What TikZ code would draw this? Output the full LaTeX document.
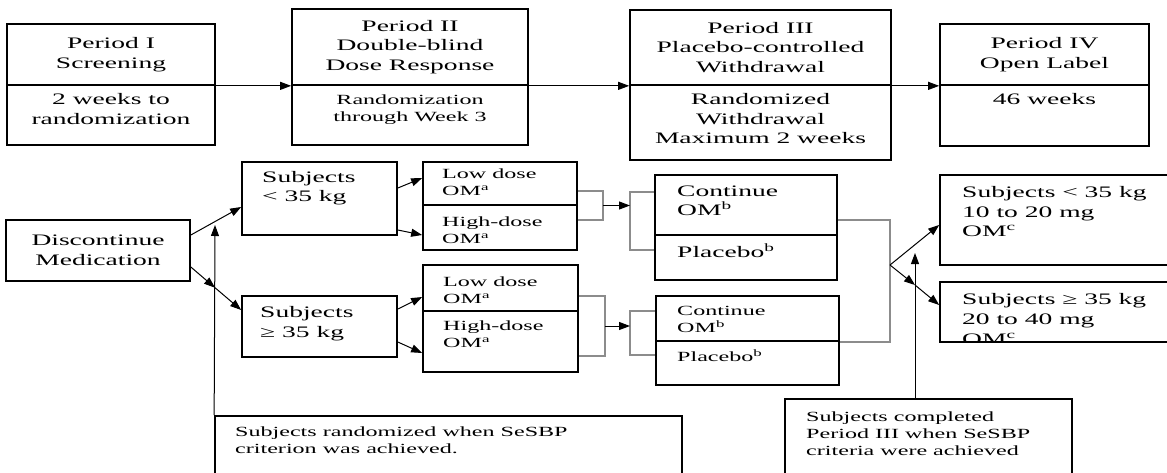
\documentclass[tikz,border=0pt]{standalone}
\usepackage{fontspec}
\setmainfont{Liberation Serif}[FakeStretch=1.72]
\usetikzlibrary{arrows.meta}

\tikzset{
  box/.style={draw, line width=1.7pt, inner sep=0pt},
  big/.style={font=\fontsize{16}{19.5}\selectfont},
  small/.style={font=\fontsize{14}{17}\selectfont},
  txt/.style={inner sep=0pt, align=left, anchor=north west},
  ctxt/.style={inner sep=0pt, align=center, anchor=north},
  arr/.style={-{Triangle[length=11pt,width=8pt]}, line width=1pt},
  merge/.style={draw=black!45, line width=1.6pt},
}

\begin{document}
\begin{tikzpicture}[x=1pt, y=-1pt]
    \useasboundingbox (0,0) rectangle (1167,472);
    % study periods
    \node (p1a) at (111,54.5) [box, big, align=center, minimum width=208, minimum height=61] {Period I\\Screening};
    \node (p1b) at (111,115) [box, minimum width=208, minimum height=60] {};
    \node (p2a) at (410,47) [box, big, align=center, minimum width=236, minimum height=76] {Period II\\Double-blind\\Dose Response};
    \node (p2b) at (410,115) [box, minimum width=236, minimum height=60] {};
    \node (p3a) at (760.5,47.5) [box, big, align=center, minimum width=261, minimum height=75] {Period III\\Placebo-controlled\\Withdrawal};
    \node (p3b) at (760.5,122.5) [box, minimum width=261, minimum height=75] {};
    \node (p4a) at (1044.5,54.5) [box, big, align=center, minimum width=209, minimum height=61] {Period IV\\Open Label};
    \node (p4b) at (1044.5,115.5) [box, minimum width=209, minimum height=61] {};
    \node (p1t) at (111,93.5) [ctxt, big] {2 weeks to\\randomization};
    \node (p2t) at (410,94.5) [ctxt, small] {Randomization\\through Week 3};
    \node (p3t) at (760.5,93.5) [ctxt, big] {Randomized\\Withdrawal\\Maximum 2 weeks};
    \node (p4t) at (1044.5,93.5) [ctxt, big] {46 weeks};
    \draw[arr] (p1a.south east) -- (p2a.south west);
    \draw[arr] (p2a.south east) -- (p3a.south west);
    \draw[arr] (p3a.south east) -- (p4a.south west);

    % discontinue and weight groups
    \node (disc) at (98,250.5) [box, big, align=center, minimum width=184, minimum height=61] {Discontinue\\Medication};
    \node (s1) at (319.5,198.5) [box, minimum width=155, minimum height=73] {};
    \node (s2) at (319.5,326.5) [box, minimum width=155, minimum height=61] {};
    \node (s1t) at (262,171) [txt, big] {Subjects\\< 35 kg};
    \node (s2t) at (260,306.5) [txt, big] {Subjects\\≥ 35 kg};
    \coordinate (x1) at (215,287.7);
    \coordinate (v1) at (215,225);
    \draw[arr] ([yshift=15.5]disc.east) -- ([yshift=-8.5]s1.west);
    \draw[arr] ([yshift=-16.5]disc.east) -- (x1);
    \draw[arr] (x1) -- ([yshift=16.5]s2.west);

    % dose boxes
    \node (d1a) at (500,183.5) [box, minimum width=154, minimum height=43] {};
    \node (d1b) at (500,227.5) [box, minimum width=154, minimum height=45] {};
    \node (d2a) at (500.5,288) [box, minimum width=155, minimum height=46] {};
    \node (d2b) at (500.5,341.5) [box, minimum width=155, minimum height=61] {};
    \node (d1at) at (442,169) [txt, small] {Low dose\\OM\textsuperscript{a}};
    \node (d1bt) at (442,216.5) [txt, small] {High-dose\\OM\textsuperscript{a}};
    \node (d2at) at (443,276.5) [txt, small] {Low dose\\OM\textsuperscript{a}};
    \node (d2bt) at (443,320.5) [txt, small] {High-dose\\OM\textsuperscript{a}};
    \draw[arr] ([yshift=10.5]s1.east) -- ([yshift=5.5]d1a.west);
    \draw[arr] ([yshift=-31.5]s1.east) -- ([yshift=-7.5]d1b.west);
    \draw[arr] ([yshift=17.5]s2.east) -- ([yshift=-9]d2a.west);
    \draw[arr] ([yshift=-15.5]s2.east) -- ([yshift=-11.5]d2b.west);

    % randomized withdrawal
    \node (c1a) at (746,205) [box, minimum width=182, minimum height=60] {};
    \node (c1b) at (746,257.5) [box, minimum width=182, minimum height=45] {};
    \node (c2a) at (747.5,318.5) [box, minimum width=183, minimum height=45] {};
    \node (c2b) at (747.5,363) [box, minimum width=183, minimum height=44] {};
    \node (c1at) at (677,185.5) [txt, big] {Continue\\OM\textsuperscript{b}};
    \node (c1bt) at (677,243.5) [txt, big] {Placebo\textsuperscript{b}};
    \node (c2at) at (677,306.5) [txt, small] {Continue\\OM\textsuperscript{b}};
    \node (c2bt) at (677,349.5) [txt, small] {Placebo\textsuperscript{b}};
    \coordinate (m1) at (603,205.5);
    \coordinate (m2) at (630,205.5);
    \coordinate (m3) at (605,326);
    \coordinate (m4) at (630,326);
    \draw[merge] ([yshift=-7.5]d1a.east) -| (m1) |- ([yshift=7.5]d1b.east);
    \draw[merge] ([yshift=13]c1a.west) -| (m2) |- ([yshift=7.5]c1b.west);
    \draw[merge] ([yshift=-8]d2a.east) -| (m3) |- ([yshift=-14.5]d2b.east);
    \draw[merge] ([yshift=7.5]c2a.west) -| (m4) |- ([yshift=8]c2b.west);
    \draw[arr] (m1) -- (m2);
    \draw[arr] (m3) -- (m4);

    % open label
    \node (q1) at (1070,220) [box, minimum width=260, minimum height=90] {};
    \node (q2) at (1070,312) [box, minimum width=260, minimum height=60] {};
    \node (q1t) at (962,186.5) [txt, big] {Subjects < 35 kg\\10 to 20 mg\\OM\textsuperscript{c}};
    \begin{scope}
        \clip (q2.north west) rectangle (q2.south east);
        \node (q2t) at (962,293) [txt, big, font=\fontsize{16}{20}\selectfont] {Subjects ≥ 35 kg\\20 to 40 mg\\OM\textsuperscript{c}};
    \end{scope}
    \coordinate (j) at (890,265);
    \coordinate (x2) at (915,285);
    \coordinate (v2) at (915,253);
    \draw[merge] ([yshift=-15]c1a.east) -| (j) |- (c2a.south east);
    \draw[arr] (j) -- ([yshift=-5]q1.west);
    \draw[arr] (j) -- (x2);
    \draw[arr] (x2) -- ([yshift=7]q2.west);

    % notes
    \node (n1) at (448.5,453) [box, minimum width=467, minimum height=74] {};
    \node (n2) at (928.5,444.5) [box, minimum width=287, minimum height=91] {};
    \node (n1t) at (235,427) [txt, small] {Subjects randomized when SeSBP\\criterion was achieved.};
    \node (n2t) at (806,411.5) [txt, small] {Subjects completed\\Period III when SeSBP\\criteria were achieved};
    \draw[arr] (n1.north west) -- (v1);
    \draw[arr] ([xshift=-13.5]n2.north) -- (v2);
\end{tikzpicture}
\end{document}
